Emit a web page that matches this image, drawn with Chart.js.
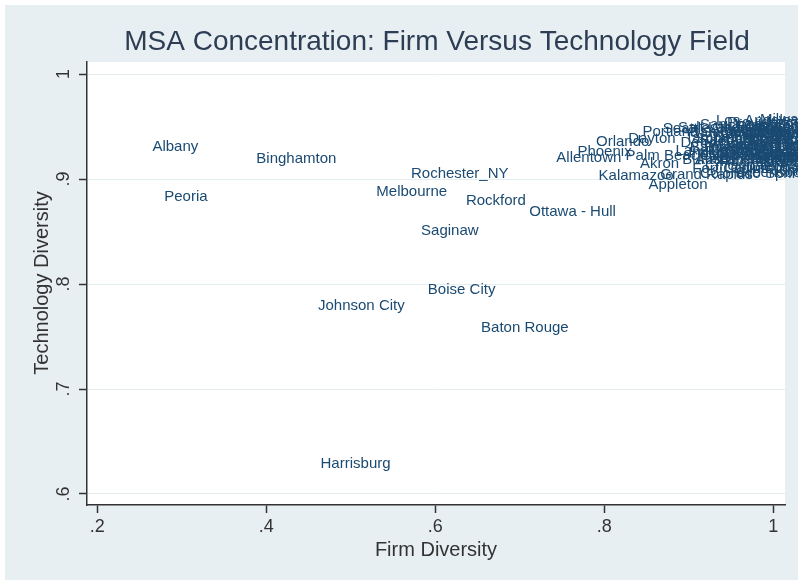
<!DOCTYPE html>
<html><head><meta charset="utf-8">
<script src="https://cdn.jsdelivr.net/npm/chart.js@4/dist/chart.umd.min.js"></script>
<style>html,body{margin:0;padding:0;background:#fff;}canvas{display:block;}</style>
</head><body>
<canvas id="c" width="798" height="582"></canvas>
<script>
// ---- data ----
const cities = [
  "Albany","Peoria","Binghamton","Rochester_NY","Melbourne","Rockford","Ottawa - Hull",
  "Saginaw","Boise City","Johnson City","Baton Rouge","Harrisburg",
  "Allentown","Phoenix","Orlando","Portland","Seattle","Los Angeles","Kalamazoo","Appleton",
  "Colorado Springs","Grand Rapids","Palm Beach","Akron","Dayton",
  "Boston","New York","Chicago","San Jose","San Francisco","San Diego","Houston","Dallas",
  "Denver","Detroit","Minneapolis","Philadelphia","Atlanta","Austin","Cleveland","Cincinnati",
  "Columbus","Indianapolis","Milwaukee","St. Louis","Kansas City","Tampa","Miami","Raleigh",
  "Salt Lake City","Sacramento","Hartford","Buffalo","Toledo","Albuquerque","Charlotte",
  "Nashville","Richmond","Baltimore","Washington","Rochester_MN","Syracuse","Lansing",
  "Greensboro","Oklahoma City","Boulder","Madison","Omaha","Wilmington","Fort Collins",
  "Providence","New Haven","Louisville",
  "Trenton","Ann Arbor","Stamford","Newark","Bridgeport","Worcester","Springfield",
  "Lancaster","Reading","Scranton","Eugene","Tulsa","Memphis","Birmingham","New Orleans",
  "Jacksonville","Las Vegas","Fort Worth","Oakland","Santa Barbara"
];
const firmDiversity = [
  0.263,0.277,0.386,0.569,0.528,0.634,0.709,
  0.581,0.589,0.459,0.652,0.462,
  0.741,0.766,0.788,0.843,0.867,0.930,0.791,0.850,
  0.911,0.864,0.823,0.840,0.826,
  0.953,0.982,0.964,0.911,0.941,0.899,0.994,0.976,
  0.923,0.888,0.935,0.959,0.988,0.905,0.970,0.917,
  0.947,0.897,0.982,1.000,0.929,0.893,0.959,0.994,
  0.885,0.911,0.941,0.890,0.976,0.923,0.964,
  0.947,0.988,0.899,1.004,0.935,0.982,0.882,
  0.953,0.911,1.000,0.970,0.933,1.012,0.902,
  0.943,0.994,0.959,
  0.925,0.944,0.968,0.986,0.916,0.953,0.973,
  0.933,0.994,0.906,0.961,0.979,0.935,1.008,0.921,
  0.963,1.000,0.949,0.979,0.914
];
const techDiversity = [
  0.931,0.883,0.919,0.905,0.888,0.879,0.869,
  0.851,0.794,0.779,0.758,0.629,
  0.920,0.926,0.935,0.945,0.948,0.955,0.903,0.894,
  0.905,0.904,0.922,0.914,0.938,
  0.950,0.946,0.942,0.952,0.937,0.944,0.935,0.929,
  0.927,0.934,0.922,0.918,0.922,0.918,0.912,0.913,
  0.910,0.925,0.956,0.940,0.944,0.939,0.931,0.916,
  0.949,0.936,0.929,0.918,0.920,0.948,0.925,
  0.944,0.908,0.930,0.927,0.916,0.949,0.927,
  0.906,0.922,0.952,0.937,0.933,0.932,0.910,
  0.954,0.944,0.946,
  0.939,0.932,0.943,0.936,0.930,0.925,0.932,
  0.918,0.925,0.938,0.938,0.916,0.946,0.920,0.922,
  0.951,0.931,0.920,0.925,0.944
];
const xTicks = [0.2, 0.4, 0.6, 0.8, 1];
const xTickLabels = [".2", ".4", ".6", ".8", "1"];
const yTicks = [0.6, 0.7, 0.8, 0.9, 1];
const yTickLabels = [".6", ".7", ".8", ".9", "1"];
const titleText = "MSA Concentration: Firm Versus Technology Field";
const xTitle = "Firm Diversity";
const yTitle = "Technology Diversity";

const FONT = '"Liberation Sans", Arial, sans-serif';
const bgPlugin = {
  id: 'stataLook',
  beforeDraw(chart) {
    const ctx = chart.ctx, a = chart.chartArea;
    ctx.save();
    ctx.fillStyle = '#ffffff';
    ctx.fillRect(0, 0, chart.width, chart.height);
    ctx.fillStyle = '#e8eff2';
    ctx.fillRect(5, 5, chart.width - 5, chart.height - 7);
    ctx.fillStyle = '#ffffff';
    ctx.fillRect(a.left, a.top, a.right - a.left, a.bottom - a.top);
    ctx.restore();
  },
  afterDraw(chart) {
    const ctx = chart.ctx, a = chart.chartArea;
    const xs = chart.scales.x, ys = chart.scales.y;
    ctx.save();
    // title
    ctx.fillStyle = '#2c3d54';
    ctx.font = '28px ' + FONT;
    ctx.textAlign = 'center';
    ctx.textBaseline = 'middle';
    ctx.fillText(titleText, 437, 42);
    // x tick labels
    ctx.fillStyle = '#333333';
    ctx.font = '18px ' + FONT;
    xTicks.forEach((v, i) => {
      ctx.fillText(xTickLabels[i], xs.getPixelForValue(v), 527);
    });
    // y tick labels (rotated)
    yTicks.forEach((v, i) => {
      ctx.save();
      ctx.translate(64, ys.getPixelForValue(v));
      ctx.rotate(-Math.PI / 2);
      ctx.fillText(yTickLabels[i], 0, 0);
      ctx.restore();
    });
    // axis titles
    ctx.font = '20px ' + FONT;
    ctx.fillText(xTitle, (a.left + a.right) / 2, 550);
    ctx.save();
    ctx.translate(42, 283);
    ctx.rotate(-Math.PI / 2);
    ctx.fillText(yTitle, 0, 0);
    ctx.restore();
    // marker labels
    const meta = chart.getDatasetMeta(0);
    ctx.fillStyle = '#1a4a72';
    ctx.font = '15px ' + FONT;
    ctx.textAlign = 'left';
    ctx.textBaseline = 'middle';
    meta.data.forEach((el, i) => {
      ctx.fillText(cities[i], el.x + 2, el.y);
    });
    ctx.restore();
  }
};

new Chart(document.getElementById('c'), {
  type: 'scatter',
  data: {
    datasets: [{
      data: firmDiversity.map((x, i) => ({ x: x, y: techDiversity[i] })),
      pointRadius: 0,
      pointHoverRadius: 0,
      showLine: false
    }]
  },
  options: {
    responsive: false,
    devicePixelRatio: 1,
    animation: false,
    events: [],
    layout: { padding: { left: 0, top: 62, right: 13, bottom: 0 } },
    plugins: { legend: { display: false }, tooltip: { enabled: false }, title: { display: false } },
    scales: {
      x: {
        type: 'linear', min: 0.188, max: 1.014,
        afterBuildTicks: s => { s.ticks = xTicks.map(v => ({ value: v })); },
        afterFit: s => { s.height = 77; },
        grid: { drawOnChartArea: false, drawTicks: true, tickLength: 8, tickColor: '#333333', tickWidth: 1.5 },
        border: { display: true, color: '#333333', width: 1.5 },
        ticks: { display: false, autoSkip: false }
      },
      y: {
        type: 'linear', min: 0.5895, max: 1.0115,
        afterBuildTicks: s => { s.ticks = yTicks.map(v => ({ value: v })); },
        afterFit: s => { s.width = 87; },
        grid: { color: '#e4edf0', lineWidth: 1, drawTicks: true, tickLength: 8, tickColor: '#333333', tickWidth: 1.5 },
        border: { display: true, color: '#333333', width: 1.5 },
        ticks: { display: false, autoSkip: false }
      }
    }
  },
  plugins: [bgPlugin]
});
</script>
</body></html>
